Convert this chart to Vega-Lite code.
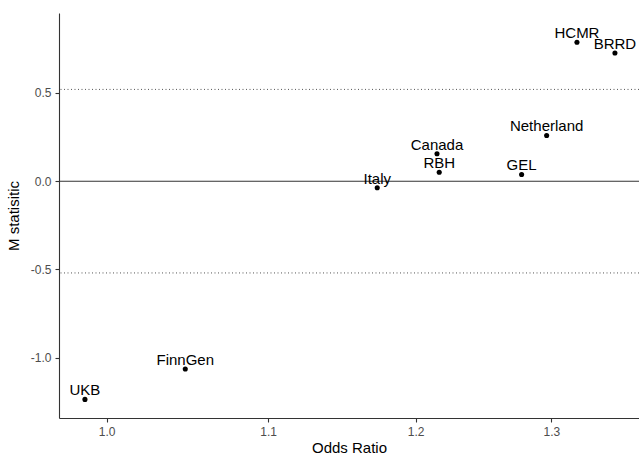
{
  "$schema": "https://vega.github.io/schema/vega-lite/v6.json",
  "width": 580,
  "height": 405,
  "autosize": {"type": "none"},
  "padding": {"left": 59, "top": 13, "right": 0, "bottom": 38},
  "background": "white",
  "config": {
    "view": {"stroke": null},
    "font": "Liberation Sans",
    "axis": {
      "grid": false,
      "domainColor": "#333333",
      "domainWidth": 1.1,
      "tickColor": "#333333",
      "tickWidth": 1.1,
      "tickSize": 4,
      "labelColor": "#4D4D4D",
      "labelFontSize": 12,
      "labelFont": "Liberation Sans",
      "titleColor": "#000000",
      "titleFontSize": 15,
      "titleFontWeight": "normal",
      "titleFont": "Liberation Sans"
    }
  },
  "datasets": {
    "cohorts": [
      {"cohort": "UKB", "odds_ratio": 0.9873, "m_stat": -1.2365},
      {"cohort": "FinnGen", "odds_ratio": 1.0475, "m_stat": -1.064},
      {"cohort": "Italy", "odds_ratio": 1.1731, "m_stat": -0.0374},
      {"cohort": "Canada", "odds_ratio": 1.2152, "m_stat": 0.1554},
      {"cohort": "RBH", "odds_ratio": 1.2168, "m_stat": 0.051},
      {"cohort": "GEL", "odds_ratio": 1.2774, "m_stat": 0.038},
      {"cohort": "Netherland", "odds_ratio": 1.2964, "m_stat": 0.259},
      {"cohort": "HCMR", "odds_ratio": 1.3198, "m_stat": 0.787},
      {"cohort": "BRRD", "odds_ratio": 1.3497, "m_stat": 0.726}
    ],
    "thresholds": [
      {"m_stat": 0.52},
      {"m_stat": -0.52}
    ],
    "baseline": [
      {"m_stat": 0}
    ]
  },
  "layer": [
    {
      "data": {"name": "thresholds"},
      "mark": {"type": "rule", "color": "#555555", "strokeWidth": 1, "strokeDash": [1, 2.5]},
      "encoding": {
        "y": {"field": "m_stat", "type": "quantitative", "scale": {"domain": [-1.342, 0.953], "nice": false, "zero": false}}
      }
    },
    {
      "data": {"name": "baseline"},
      "mark": {"type": "rule", "color": "#333333", "strokeWidth": 1.1},
      "encoding": {
        "y": {"field": "m_stat", "type": "quantitative"}
      }
    },
    {
      "data": {"name": "cohorts"},
      "mark": {"type": "circle", "color": "#000000", "opacity": 1, "size": 26},
      "encoding": {
        "x": {
          "field": "odds_ratio",
          "type": "quantitative",
          "title": "Odds Ratio",
          "scale": {"type": "log", "domain": [0.9723, 1.369], "nice": false, "zero": false},
          "axis": {"values": [1.0, 1.1, 1.2, 1.3], "format": ".1f", "labelPadding": 4, "titlePadding": 3, "labelFlush": false}
        },
        "y": {
          "field": "m_stat",
          "type": "quantitative",
          "title": "M statisitic",
          "axis": {
            "values": [-1.0, -0.5, 0.0, 0.5],
            "labelExpr": "datum.value < 0 ? '-' + format(-datum.value, '.1f') : format(datum.value, '.1f')",
            "labelPadding": 4,
            "titlePadding": 9,
            "labelFlush": false
          }
        }
      }
    },
    {
      "data": {"name": "cohorts"},
      "mark": {"type": "text", "fontSize": 15, "font": "Liberation Sans", "color": "#000000", "baseline": "alphabetic", "align": "center", "dy": -4},
      "encoding": {
        "x": {"field": "odds_ratio", "type": "quantitative"},
        "y": {"field": "m_stat", "type": "quantitative"},
        "text": {"field": "cohort", "type": "nominal"}
      }
    }
  ]
}
